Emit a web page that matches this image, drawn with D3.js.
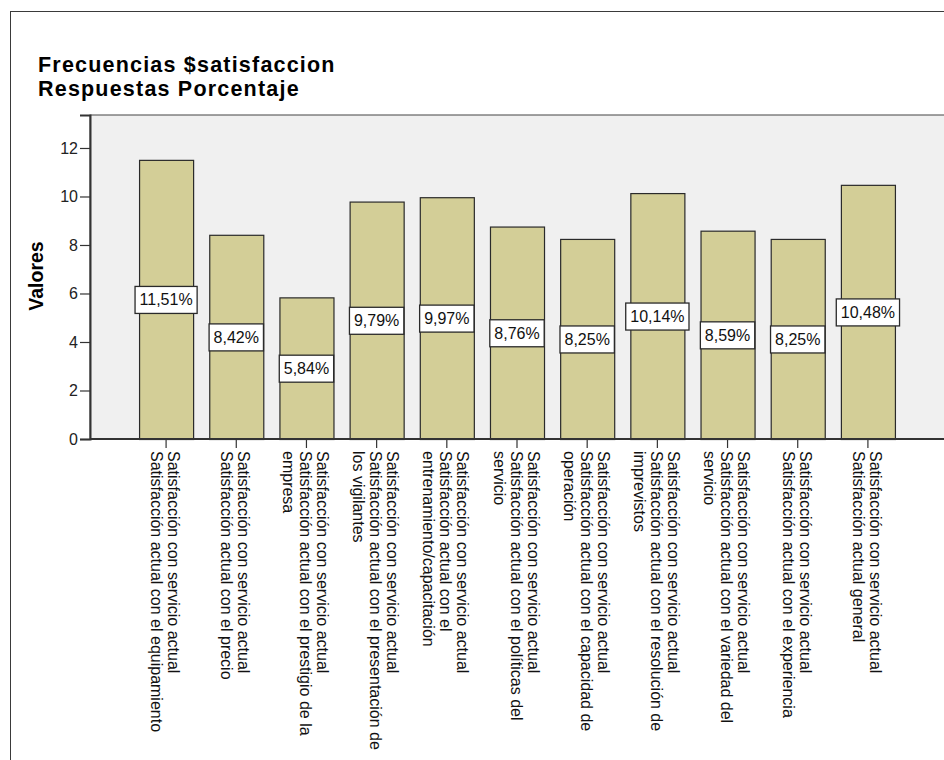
<!DOCTYPE html>
<html>
<head>
<meta charset="utf-8">
<script src="https://cdn.jsdelivr.net/npm/d3@7"></script>
<style>
  body { margin: 0; background: #fff; }
  text { font-family: Arial, "Liberation Sans", sans-serif; }
</style>
</head>
<body>
<svg id="chart" width="944" height="760"></svg>
<script>
// Category labels (line breaks mark the wrapped lines)
const categories = [
  "Satisfacción con servicio actual\nSatisfacción actual con el equipamiento",
  "Satisfacción con servicio actual\nSatisfacción actual con el precio",
  "Satisfacción con servicio actual\nSatisfacción actual con el prestigio de la\nempresa",
  "Satisfacción con servicio actual\nSatisfacción actual con el presentación de\nlos vigilantes",
  "Satisfacción con servicio actual\nSatisfacción actual con el\nentrenamiento/capacitación",
  "Satisfacción con servicio actual\nSatisfacción actual con el políticas del\nservicio",
  "Satisfacción con servicio actual\nSatisfacción actual con el capacidad de\noperación",
  "Satisfacción con servicio actual\nSatisfacción actual con el resolución de\nimprevistos",
  "Satisfacción con servicio actual\nSatisfacción actual con el variedad del\nservicio",
  "Satisfacción con servicio actual\nSatisfacción actual con el experiencia",
  "Satisfacción con servicio actual\nSatisfacción actual general"
];

// Percentage of responses per item
const values = [11.51, 8.42, 5.84, 9.79, 9.97, 8.76, 8.25, 10.14, 8.59, 8.25, 10.48];

const yTicks = [0, 2, 4, 6, 8, 10, 12];
const titleLines = ["Frecuencias $satisfaccion", "Respuestas Porcentaje"];
const yTitle = "Valores";

const locale = d3.formatLocale({ decimal: ",", thousands: ".", grouping: [3], currency: ["", ""] });
const pct = v => locale.format(".2f")(v) + "%";

const svg = d3.select("#chart");

// outer frame
svg.append("rect")
  .attr("x", 10.5).attr("y", 11.5)
  .attr("width", 960).attr("height", 780)
  .attr("fill", "#fff").attr("stroke", "#3a3a3a").attr("stroke-width", 1);

// title
svg.append("g").selectAll("text").data(titleLines).join("text")
  .attr("x", 38).attr("y", (d, i) => 72 + i * 24)
  .attr("font-size", 21.5).attr("font-weight", "bold")
  .attr("letter-spacing", 1.2).attr("fill", "#000")
  .text(d => d);

const plot = { left: 90, top: 115, right: 960, bottom: 439 };

const x = d3.scaleBand()
  .domain(d3.range(categories.length))
  .range([131, 903])
  .paddingInner(0.23)
  .paddingOuter(0.115);

const y = d3.scaleLinear().domain([0, 13.36]).range([plot.bottom, plot.top]);

// plot background
svg.append("rect")
  .attr("x", plot.left).attr("y", plot.top)
  .attr("width", plot.right - plot.left).attr("height", plot.bottom - plot.top)
  .attr("fill", "#f0f0f0").attr("stroke", "#444").attr("stroke-width", 1);

// bars
svg.append("g").selectAll("rect").data(values).join("rect")
  .attr("x", (d, i) => x(i) + 0.5)
  .attr("y", d => y(d) + 0.5)
  .attr("width", x.bandwidth())
  .attr("height", d => y(0) - y(d))
  .attr("fill", "#d3ce97")
  .attr("stroke", "#2a2a2a").attr("stroke-width", 1.2);

// y axis
const yAxis = svg.append("g")
  .attr("transform", `translate(${plot.left},0)`)
  .call(d3.axisLeft(y).tickValues(yTicks).tickSize(10).tickPadding(2).tickFormat(d3.format("d")));
yAxis.select(".domain").attr("stroke", "#333").attr("stroke-width", 2);
yAxis.selectAll(".tick line").attr("stroke", "#333").attr("stroke-width", 1.2);
yAxis.selectAll(".tick text")
  .attr("font-size", 16).attr("fill", "#222")
  .attr("font-family", "Arial, 'Liberation Sans', sans-serif");

// x axis
const xAxis = svg.append("g")
  .attr("transform", `translate(0,${plot.bottom})`)
  .call(d3.axisBottom(x).tickSize(9).tickFormat(""));
xAxis.select(".domain").attr("d", `M${plot.left},0H${plot.right}`)
  .attr("stroke", "#333").attr("stroke-width", 2);
xAxis.selectAll(".tick line").attr("stroke", "#333").attr("stroke-width", 1.2);

// rotated category labels
const lineH = 17;
const labelG = svg.append("g").selectAll("g").data(categories).join("g")
  .attr("transform", (d, i) => `translate(${x(i) + x.bandwidth() / 2},${plot.bottom + 12}) rotate(90)`);
labelG.each(function (d) {
  const lines = d.split("\n");
  const n = lines.length;
  d3.select(this).selectAll("text").data(lines).join("text")
    .attr("x", 0)
    .attr("y", (t, j) => (j - (n - 1) / 2) * lineH)
    .attr("dy", "0.4em")
    .attr("font-size", 16)
    .attr("fill", "#111")
    .text(t => t);
});

// value labels in boxes at mid-height
const valG = svg.append("g").selectAll("g").data(values).join("g")
  .attr("transform", (d, i) => `translate(${x(i) + x.bandwidth() / 2},${y(d / 2)})`);
valG.append("text")
  .attr("text-anchor", "middle").attr("dy", "0.36em")
  .attr("font-size", 16).attr("fill", "#111")
  .text(d => pct(d));
valG.each(function () {
  const g = d3.select(this);
  const bb = g.select("text").node().getBBox();
  g.insert("rect", "text")
    .attr("x", bb.x - 4.5).attr("y", -13)
    .attr("width", bb.width + 9).attr("height", 27)
    .attr("fill", "#fff").attr("stroke", "#2a2a2a").attr("stroke-width", 1.3);
});

// y axis title
svg.append("text")
  .attr("transform", "translate(43,276) rotate(-90)")
  .attr("text-anchor", "middle")
  .attr("font-size", 19.5).attr("font-weight", "bold").attr("fill", "#000")
  .text(yTitle);
</script>
</body>
</html>
